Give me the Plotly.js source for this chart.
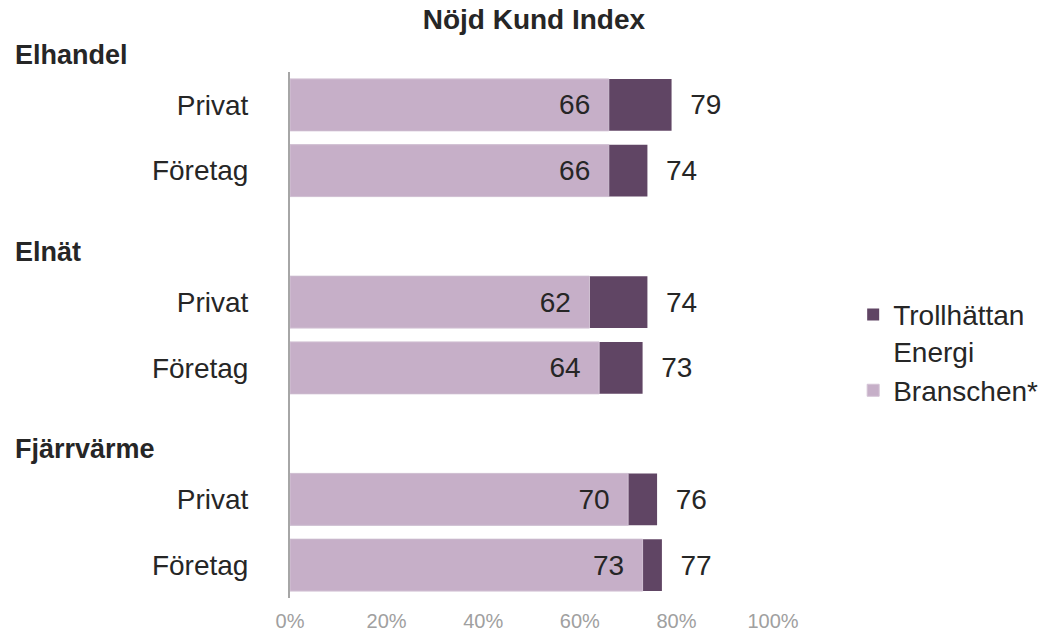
<!DOCTYPE html>
<html>
<head>
<meta charset="utf-8">
<script src="https://cdn.plot.ly/plotly-3.0.1.min.js"></script>
<style>html,body{margin:0;padding:0;background:#fff;}#chart{width:1047px;height:634px;}</style>
</head>
<body>
<div id="chart"></div>
<script>
// ---- data ----
var groups = ["Elhandel", "Elnät", "Fjärrvärme"];
var segments = ["Privat", "Företag"];
var branschen = [66, 66, 62, 64, 70, 73];      // Branschen*
var trollhattan = [79, 74, 74, 73, 76, 77];    // Trollhättan Energi
var xTickVals = [0, 20, 40, 60, 80, 100];
var xTickText = ["0%", "20%", "40%", "60%", "80%", "100%"];
var seriesNames = ["Trollhättan<br>Energi", "Branschen*"];
var chartTitle = "Nöjd Kund Index";

// ---- build category rows (with spacer rows between groups) ----
var yKeys = [], xBr = [], xTr = [], tickVals = [], tickText = [], headerKeys = [];
var k = 0;
groups.forEach(function (g, gi) {
  if (gi > 0) { var gap = "gap" + gi; yKeys.push(gap); xBr.push(null); xTr.push(null); }
  segments.forEach(function (s, si) {
    var key = g + " | " + s;
    yKeys.push(key); xBr.push(branschen[k]); xTr.push(trollhattan[k]);
    tickVals.push(key); tickText.push(s);
    if (si === 0) headerKeys.push(key);
    k++;
  });
});

var NB = "\u00a0\u00a0";
var dark = "#604564", light = "#C6AFC8", txt = "#262626";
var fam = "Liberation Sans, Arial, sans-serif";

var traces = [
  {
    type: "bar", orientation: "h", name: seriesNames[0],
    y: yKeys, x: xTr,
    marker: { color: dark, line: { width: 0 } },
    text: xTr.map(function (v) { return v == null ? "" : NB + v; }),
    textposition: "outside", textfont: { family: fam, size: 28, color: txt },
    cliponaxis: false, hoverinfo: "x+y"
  },
  {
    type: "bar", orientation: "h", name: seriesNames[1],
    y: yKeys, x: xBr,
    marker: { color: light, line: { width: 1, color: "#d3c3d5" } },
    text: xBr.map(function (v) { return v == null ? "" : v + NB; }),
    textposition: "inside", insidetextanchor: "end",
    insidetextfont: { family: fam, size: 28, color: txt },
    textfont: { family: fam, size: 28, color: txt },
    cliponaxis: false, hoverinfo: "x+y"
  }
];

var annotations = groups.map(function (g, i) {
  return {
    text: "<b>" + g + "</b>", xref: "paper", x: -0.573, xanchor: "left",
    yref: "y", y: headerKeys[i], yshift: 50, yanchor: "middle",
    showarrow: false, font: { family: fam, size: 27, color: txt }
  };
});

var layout = {
  width: 1047, height: 634,
  margin: { l: 290, r: 274, t: 72, b: 36, autoexpand: false },
  paper_bgcolor: "#fff", plot_bgcolor: "#fff",
  barmode: "overlay", bargap: 0.21,
  title: {
    text: "<b>" + chartTitle + "</b>", xref: "paper", x: 0.505, xanchor: "center",
    yref: "container", y: 1 - 19 / 634, yanchor: "middle",
    font: { family: fam, size: 28, color: txt }
  },
  xaxis: {
    range: [0, 100], tickmode: "array", tickvals: xTickVals, ticktext: xTickText,
    showgrid: false, zeroline: false, showline: false, ticks: "", ticklabelstandoff: 9,
    tickfont: { family: fam, size: 20, color: "#a0a0a0" }, fixedrange: true
  },
  yaxis: {
    type: "category", categoryorder: "array", categoryarray: yKeys,
    range: [yKeys.length - 0.5, -0.5],
    tickvals: tickVals, ticktext: tickText, ticks: "", ticklabelstandoff: 34,
    showgrid: false, zeroline: false, showline: true, linecolor: "#a6a6a6", linewidth: 2,
    tickfont: { family: fam, size: 28, color: txt }, fixedrange: true
  },
  legend: {
    x: 1.166, xanchor: "left", y: 0.586, yanchor: "top", valign: "top",
    font: { family: fam, size: 28, color: txt }, traceorder: "normal",
    itemclick: false, itemdoubleclick: false, tracegroupgap: 2
  },
  annotations: annotations,
  showlegend: true
};

Plotly.newPlot("chart", traces, layout, { displayModeBar: false, staticPlot: true });
</script>
</body>
</html>
